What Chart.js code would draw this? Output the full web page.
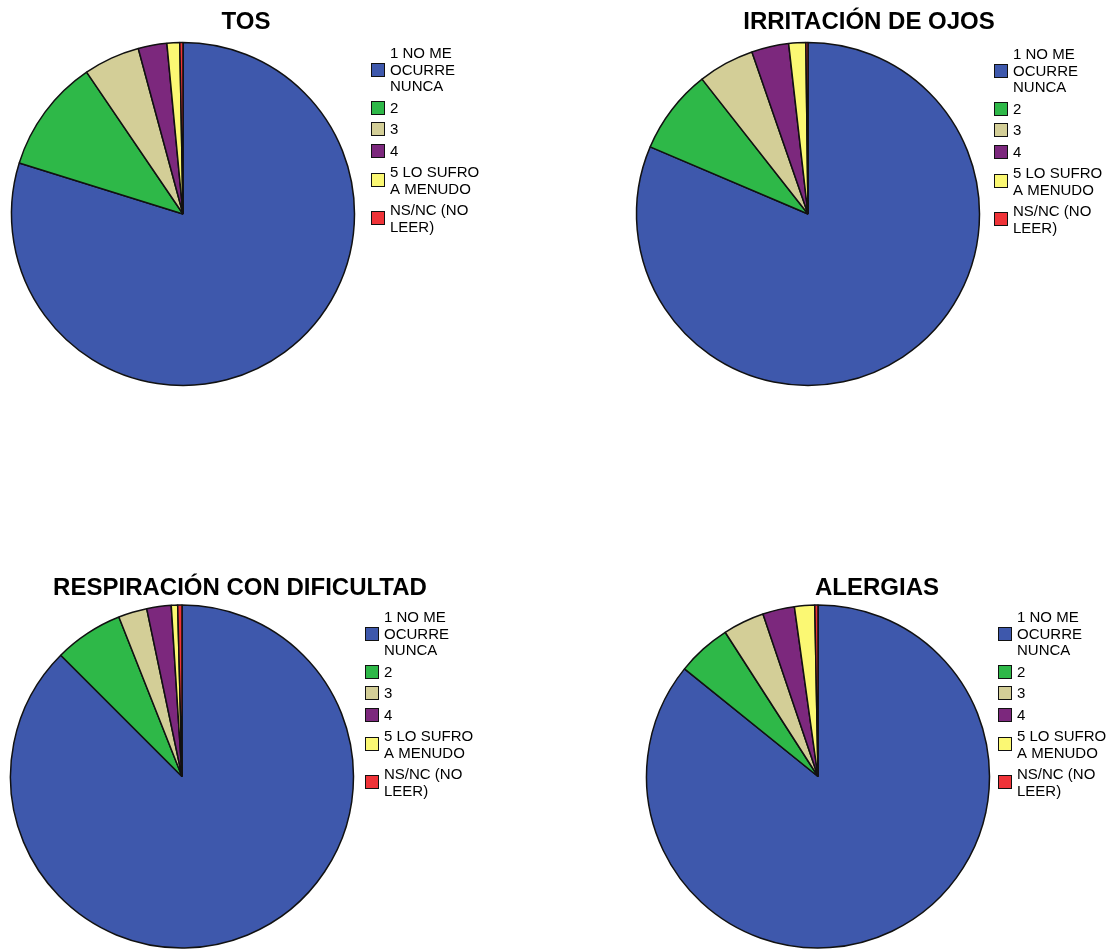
<!DOCTYPE html>
<html lang="es">
<head>
<meta charset="utf-8">
<title>Síntomas</title>
<script src="https://cdn.jsdelivr.net/npm/chart.js@4.4.1/dist/chart.umd.min.js"></script>
<style>
  html, body { margin: 0; padding: 0; background: #fff; overflow: hidden; }
  #page { position: relative; width: 1116px; height: 949px; }
  #page canvas { position: absolute; left: 0; top: 0; }
</style>
</head>
<body>
<div id="page">
  <canvas id="tos" width="1116" height="949"></canvas>
  <canvas id="ojos" width="1116" height="949"></canvas>
  <canvas id="respiracion" width="1116" height="949"></canvas>
  <canvas id="alergias" width="1116" height="949"></canvas>
</div>
<script>
// answer categories (legend lines split the way they are printed)
const categories = [
  ['1 NO ME', 'OCURRE', 'NUNCA'],
  ['2'],
  ['3'],
  ['4'],
  ['5 LO SUFRO', 'A MENUDO'],
  ['NS/NC (NO', 'LEER)']
];

// percentages per symptom
const tosValues = [79.8, 10.7, 5.3, 2.7, 1.2, 0.3];
const ojosValues = [81.4, 8.0, 5.3, 3.5, 1.6, 0.2];
const respiracionValues = [87.5, 6.5, 2.7, 2.3, 0.6, 0.4];
const alergiasValues = [85.8, 5.1, 3.9, 3.0, 1.9, 0.3];

const sliceColors = ['#3E58AC', '#2EB848', '#D3CE97', '#7C287D', '#FBF873', '#EF3338'];

const W = 1116, H = 949, R = 171.5;

// where each pie, its title and its legend sit on the page
const panels = [
  { id: 'tos', title: 'TOS', values: tosValues,
    cx: 183, cy: 214, titleX: 246, titleY: 29, legendX: 371, legendY: 53 },
  { id: 'ojos', title: 'IRRITACIÓN DE OJOS', values: ojosValues,
    cx: 808, cy: 214, titleX: 869, titleY: 29, legendX: 994, legendY: 54 },
  { id: 'respiracion', title: 'RESPIRACIÓN CON DIFICULTAD', values: respiracionValues,
    cx: 182, cy: 776.5, titleX: 240, titleY: 595, legendX: 365, legendY: 617 },
  { id: 'alergias', title: 'ALERGIAS', values: alergiasValues,
    cx: 818, cy: 776.5, titleX: 877, titleY: 595, legendX: 998, legendY: 617 }
];

const FONT = '"Liberation Sans", Arial, Helvetica, sans-serif';

// title above and stacked legend on the right of each pie
const panelDecor = {
  id: 'panelDecor',
  afterDraw(chart, args, opts) {
    const ctx = chart.ctx;
    ctx.save();
    ctx.fillStyle = '#000';
    ctx.font = 'bold 24px ' + FONT;
    ctx.textAlign = 'center';
    ctx.textBaseline = 'alphabetic';
    ctx.fillText(opts.title, opts.titleX, opts.titleY);

    ctx.font = '15px ' + FONT;
    ctx.textAlign = 'left';
    ctx.textBaseline = 'middle';
    const lineH = 16.5, gap = 5, box = 14;
    let y = opts.legendY;
    chart.data.labels.forEach((lines, i) => {
      const mid = y + (lines.length - 1) * lineH / 2;
      const top = Math.round(mid - box / 2);
      ctx.fillStyle = chart.data.datasets[0].backgroundColor[i];
      ctx.fillRect(opts.legendX, top, box, box);
      ctx.strokeStyle = '#111';
      ctx.lineWidth = 1;
      ctx.strokeRect(opts.legendX + 0.5, top + 0.5, box - 1, box - 1);
      ctx.fillStyle = '#000';
      lines.forEach((t, k) => ctx.fillText(t, opts.legendX + 19, y + k * lineH + 1));
      y += lines.length * lineH + gap;
    });
    ctx.restore();
  }
};

panels.forEach(p => {
  const ctx = document.getElementById(p.id).getContext('2d');
  new Chart(ctx, {
    type: 'pie',
    data: {
      labels: categories,
      datasets: [{
        data: p.values,
        backgroundColor: sliceColors,
        borderColor: '#111',
        borderWidth: 1.5,
        radius: R
      }]
    },
    options: {
      responsive: false,
      animation: false,
      events: [],
      layout: {
        padding: {
          left: p.cx - R,
          top: p.cy - R,
          right: W - (p.cx + R),
          bottom: H - (p.cy + R)
        }
      },
      plugins: {
        legend: { display: false },
        tooltip: { enabled: false },
        panelDecor: p
      }
    },
    plugins: [panelDecor]
  });
});
</script>
</body>
</html>
